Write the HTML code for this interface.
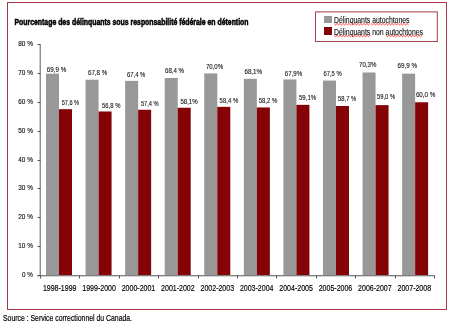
<!DOCTYPE html>
<html><head><meta charset="utf-8"><style>
html,body{margin:0;padding:0;background:#fff;width:450px;height:323px;overflow:hidden}
svg{position:absolute;left:0;top:0;will-change:transform}
</style></head><body>
<svg width="450" height="323" viewBox="0 0 450 323">
<rect x="7.5" y="2.5" width="439" height="307" fill="#fff" stroke="#a83a48" stroke-width="1"/>
<text x="14.5" y="25" font-size="8.5" font-weight="bold" font-family="Liberation Sans" textLength="234" lengthAdjust="spacingAndGlyphs" stroke="#000" stroke-width="0.5">Pourcentage des délinquants sous responsabilité fédérale en détention</text>
<rect x="315.5" y="11.9" width="121.8" height="29.6" fill="#fff" stroke="#a2464f" stroke-width="1.05"/>
<rect x="324" y="16" width="8" height="7" fill="#989898"/>
<rect x="324" y="27" width="8" height="8" fill="#850306"/>
<text x="334" y="23.2" font-size="9" font-family="Liberation Sans" textLength="75.5" lengthAdjust="spacingAndGlyphs" fill="#111" stroke="#111" stroke-width="0.12">Délinquants autochtones</text>
<text x="334" y="35" font-size="9" font-family="Liberation Sans" textLength="89" lengthAdjust="spacingAndGlyphs" fill="#111" stroke="#111" stroke-width="0.12">Délinquants non autochtones</text>
<polyline fill="none" stroke="#ff2a2a" stroke-width="0.9" stroke-linejoin="round" points="334.0,23.5 335.5,24.9 337.0,23.5 338.5,24.9 340.0,23.5 341.5,24.9 343.0,23.5 344.5,24.9 346.0,23.5 347.5,24.9 349.0,23.5 350.5,24.9 352.0,23.5 353.5,24.9 355.0,23.5 356.5,24.9 358.0,23.5 359.5,24.9 361.0,23.5 362.5,24.9 364.0,23.5 365.5,24.9 367.0,23.5 368.5,24.9 370.0,23.5"/>
<polyline fill="none" stroke="#ff2a2a" stroke-width="0.9" stroke-linejoin="round" points="371.0,23.5 372.5,24.9 374.0,23.5 375.5,24.9 377.0,23.5 378.5,24.9 380.0,23.5 381.5,24.9 383.0,23.5 384.5,24.9 386.0,23.5 387.5,24.9 389.0,23.5 390.5,24.9 392.0,23.5 393.5,24.9 395.0,23.5 396.5,24.9 398.0,23.5 399.5,24.9 401.0,23.5 402.5,24.9 404.0,23.5 405.5,24.9 407.0,23.5 408.5,24.9"/>
<polyline fill="none" stroke="#ff2a2a" stroke-width="0.9" stroke-linejoin="round" points="334.0,35.3 335.5,36.7 337.0,35.3 338.5,36.7 340.0,35.3 341.5,36.7 343.0,35.3 344.5,36.7 346.0,35.3 347.5,36.7 349.0,35.3 350.5,36.7 352.0,35.3 353.5,36.7 355.0,35.3 356.5,36.7 358.0,35.3 359.5,36.7 361.0,35.3 362.5,36.7 364.0,35.3 365.5,36.7 367.0,35.3 368.5,36.7 370.0,35.3"/>
<polyline fill="none" stroke="#ff2a2a" stroke-width="0.9" stroke-linejoin="round" points="386.0,35.3 387.5,36.7 389.0,35.3 390.5,36.7 392.0,35.3 393.5,36.7 395.0,35.3 396.5,36.7 398.0,35.3 399.5,36.7 401.0,35.3 402.5,36.7 404.0,35.3 405.5,36.7 407.0,35.3 408.5,36.7 410.0,35.3 411.5,36.7 413.0,35.3 414.5,36.7 416.0,35.3 417.5,36.7 419.0,35.3 420.5,36.7 422.0,35.3"/>
<line x1="40.2" y1="44.5" x2="40.2" y2="275.5" stroke="#6a6a6a" stroke-width="1.1"/>
<line x1="37.5" y1="275.8" x2="434.5" y2="275.8" stroke="#555" stroke-width="1.1"/>
<line x1="37.5" y1="275.5" x2="40.5" y2="275.5" stroke="#555" stroke-width="1"/>
<text x="32.9" y="277.4" text-anchor="end" font-size="7.2" font-family="Liberation Sans" textLength="10.8" lengthAdjust="spacingAndGlyphs" fill="#111" stroke="#111" stroke-width="0.14">0 %</text>
<line x1="37.5" y1="246.5" x2="40.5" y2="246.5" stroke="#555" stroke-width="1"/>
<text x="32.9" y="248.4" text-anchor="end" font-size="7.2" font-family="Liberation Sans" textLength="14.6" lengthAdjust="spacingAndGlyphs" fill="#111" stroke="#111" stroke-width="0.14">10 %</text>
<line x1="37.5" y1="217.5" x2="40.5" y2="217.5" stroke="#555" stroke-width="1"/>
<text x="32.9" y="219.4" text-anchor="end" font-size="7.2" font-family="Liberation Sans" textLength="14.6" lengthAdjust="spacingAndGlyphs" fill="#111" stroke="#111" stroke-width="0.14">20 %</text>
<line x1="37.5" y1="188.5" x2="40.5" y2="188.5" stroke="#555" stroke-width="1"/>
<text x="32.9" y="190.4" text-anchor="end" font-size="7.2" font-family="Liberation Sans" textLength="14.6" lengthAdjust="spacingAndGlyphs" fill="#111" stroke="#111" stroke-width="0.14">30 %</text>
<line x1="37.5" y1="160.5" x2="40.5" y2="160.5" stroke="#555" stroke-width="1"/>
<text x="32.9" y="162.4" text-anchor="end" font-size="7.2" font-family="Liberation Sans" textLength="14.6" lengthAdjust="spacingAndGlyphs" fill="#111" stroke="#111" stroke-width="0.14">40 %</text>
<line x1="37.5" y1="131.5" x2="40.5" y2="131.5" stroke="#555" stroke-width="1"/>
<text x="32.9" y="133.4" text-anchor="end" font-size="7.2" font-family="Liberation Sans" textLength="14.6" lengthAdjust="spacingAndGlyphs" fill="#111" stroke="#111" stroke-width="0.14">50 %</text>
<line x1="37.5" y1="102.5" x2="40.5" y2="102.5" stroke="#555" stroke-width="1"/>
<text x="32.9" y="104.4" text-anchor="end" font-size="7.2" font-family="Liberation Sans" textLength="14.6" lengthAdjust="spacingAndGlyphs" fill="#111" stroke="#111" stroke-width="0.14">60 %</text>
<line x1="37.5" y1="73.5" x2="40.5" y2="73.5" stroke="#555" stroke-width="1"/>
<text x="32.9" y="75.4" text-anchor="end" font-size="7.2" font-family="Liberation Sans" textLength="14.6" lengthAdjust="spacingAndGlyphs" fill="#111" stroke="#111" stroke-width="0.14">70 %</text>
<line x1="37.5" y1="44.5" x2="40.5" y2="44.5" stroke="#555" stroke-width="1"/>
<text x="32.9" y="46.4" text-anchor="end" font-size="7.2" font-family="Liberation Sans" textLength="14.6" lengthAdjust="spacingAndGlyphs" fill="#111" stroke="#111" stroke-width="0.14">80 %</text>
<line x1="40.5" y1="275.5" x2="40.5" y2="278.5" stroke="#555" stroke-width="1"/>
<line x1="79.5" y1="275.5" x2="79.5" y2="278.5" stroke="#555" stroke-width="1"/>
<line x1="119.5" y1="275.5" x2="119.5" y2="278.5" stroke="#555" stroke-width="1"/>
<line x1="158.5" y1="275.5" x2="158.5" y2="278.5" stroke="#555" stroke-width="1"/>
<line x1="198.5" y1="275.5" x2="198.5" y2="278.5" stroke="#555" stroke-width="1"/>
<line x1="237.5" y1="275.5" x2="237.5" y2="278.5" stroke="#555" stroke-width="1"/>
<line x1="276.5" y1="275.5" x2="276.5" y2="278.5" stroke="#555" stroke-width="1"/>
<line x1="316.5" y1="275.5" x2="316.5" y2="278.5" stroke="#555" stroke-width="1"/>
<line x1="355.5" y1="275.5" x2="355.5" y2="278.5" stroke="#555" stroke-width="1"/>
<line x1="395.5" y1="275.5" x2="395.5" y2="278.5" stroke="#555" stroke-width="1"/>
<line x1="434.5" y1="275.5" x2="434.5" y2="278.5" stroke="#555" stroke-width="1"/>
<rect x="46.00" y="73.66" width="13" height="201.34" fill="#989898"/>
<rect x="59.00" y="109.18" width="13" height="165.82" fill="#850306"/>
<text x="46.80" y="71.90" font-size="6.4" font-family="Liberation Sans" textLength="19.50" lengthAdjust="spacingAndGlyphs" fill="#1a1a1a" stroke="#1a1a1a" stroke-width="0.12">69,9 %</text>
<text x="61.70" y="104.80" font-size="6.4" font-family="Liberation Sans" textLength="17.40" lengthAdjust="spacingAndGlyphs" fill="#1a1a1a" stroke="#1a1a1a" stroke-width="0.12">57,6 %</text>
<text x="59.70" y="291.4" text-anchor="middle" font-size="8.3" font-family="Liberation Sans" textLength="33.6" lengthAdjust="spacingAndGlyphs" stroke="#000" stroke-width="0.16">1998-1999</text>
<rect x="85.57" y="79.73" width="13" height="195.27" fill="#989898"/>
<rect x="98.57" y="111.49" width="13" height="163.51" fill="#850306"/>
<text x="88.00" y="74.60" font-size="6.4" font-family="Liberation Sans" textLength="19.20" lengthAdjust="spacingAndGlyphs" fill="#1a1a1a" stroke="#1a1a1a" stroke-width="0.12">67,8 %</text>
<text x="102.10" y="107.50" font-size="6.4" font-family="Liberation Sans" textLength="18.30" lengthAdjust="spacingAndGlyphs" fill="#1a1a1a" stroke="#1a1a1a" stroke-width="0.12">56,8 %</text>
<text x="99.10" y="291.4" text-anchor="middle" font-size="8.3" font-family="Liberation Sans" textLength="33.6" lengthAdjust="spacingAndGlyphs" stroke="#000" stroke-width="0.16">1999-2000</text>
<rect x="125.14" y="80.88" width="13" height="194.12" fill="#989898"/>
<rect x="138.14" y="109.76" width="13" height="165.24" fill="#850306"/>
<text x="127.00" y="76.90" font-size="6.4" font-family="Liberation Sans" textLength="18.30" lengthAdjust="spacingAndGlyphs" fill="#1a1a1a" stroke="#1a1a1a" stroke-width="0.12">67,4 %</text>
<text x="140.90" y="105.70" font-size="6.4" font-family="Liberation Sans" textLength="17.80" lengthAdjust="spacingAndGlyphs" fill="#1a1a1a" stroke="#1a1a1a" stroke-width="0.12">57,4 %</text>
<text x="138.50" y="291.4" text-anchor="middle" font-size="8.3" font-family="Liberation Sans" textLength="33.6" lengthAdjust="spacingAndGlyphs" stroke="#000" stroke-width="0.16">2000-2001</text>
<rect x="164.71" y="77.99" width="13" height="197.01" fill="#989898"/>
<rect x="177.71" y="107.74" width="13" height="167.26" fill="#850306"/>
<text x="165.00" y="73.30" font-size="6.4" font-family="Liberation Sans" textLength="19.00" lengthAdjust="spacingAndGlyphs" fill="#1a1a1a" stroke="#1a1a1a" stroke-width="0.12">68,4 %</text>
<text x="180.40" y="104.30" font-size="6.4" font-family="Liberation Sans" textLength="17.30" lengthAdjust="spacingAndGlyphs" fill="#1a1a1a" stroke="#1a1a1a" stroke-width="0.12">58,1%</text>
<text x="177.90" y="291.4" text-anchor="middle" font-size="8.3" font-family="Liberation Sans" textLength="33.6" lengthAdjust="spacingAndGlyphs" stroke="#000" stroke-width="0.16">2001-2002</text>
<rect x="204.28" y="73.38" width="13" height="201.62" fill="#989898"/>
<rect x="217.28" y="106.87" width="13" height="168.13" fill="#850306"/>
<text x="205.90" y="68.70" font-size="6.4" font-family="Liberation Sans" textLength="17.20" lengthAdjust="spacingAndGlyphs" fill="#1a1a1a" stroke="#1a1a1a" stroke-width="0.12">70,0%</text>
<text x="219.60" y="102.50" font-size="6.4" font-family="Liberation Sans" textLength="18.60" lengthAdjust="spacingAndGlyphs" fill="#1a1a1a" stroke="#1a1a1a" stroke-width="0.12">58,4 %</text>
<text x="217.30" y="291.4" text-anchor="middle" font-size="8.3" font-family="Liberation Sans" textLength="33.6" lengthAdjust="spacingAndGlyphs" stroke="#000" stroke-width="0.16">2002-2003</text>
<rect x="243.85" y="78.86" width="13" height="196.14" fill="#989898"/>
<rect x="256.85" y="107.45" width="13" height="167.55" fill="#850306"/>
<text x="244.40" y="74.10" font-size="6.4" font-family="Liberation Sans" textLength="17.80" lengthAdjust="spacingAndGlyphs" fill="#1a1a1a" stroke="#1a1a1a" stroke-width="0.12">68,1%</text>
<text x="258.70" y="103.00" font-size="6.4" font-family="Liberation Sans" textLength="18.60" lengthAdjust="spacingAndGlyphs" fill="#1a1a1a" stroke="#1a1a1a" stroke-width="0.12">58,2 %</text>
<text x="256.70" y="291.4" text-anchor="middle" font-size="8.3" font-family="Liberation Sans" textLength="33.6" lengthAdjust="spacingAndGlyphs" stroke="#000" stroke-width="0.16">2003-2004</text>
<rect x="283.42" y="79.44" width="13" height="195.56" fill="#989898"/>
<rect x="296.42" y="104.85" width="13" height="170.15" fill="#850306"/>
<text x="284.80" y="75.50" font-size="6.4" font-family="Liberation Sans" textLength="17.40" lengthAdjust="spacingAndGlyphs" fill="#1a1a1a" stroke="#1a1a1a" stroke-width="0.12">67,9%</text>
<text x="299.00" y="100.40" font-size="6.4" font-family="Liberation Sans" textLength="17.10" lengthAdjust="spacingAndGlyphs" fill="#1a1a1a" stroke="#1a1a1a" stroke-width="0.12">59,1%</text>
<text x="296.10" y="291.4" text-anchor="middle" font-size="8.3" font-family="Liberation Sans" textLength="33.6" lengthAdjust="spacingAndGlyphs" stroke="#000" stroke-width="0.16">2004-2005</text>
<rect x="322.99" y="80.59" width="13" height="194.41" fill="#989898"/>
<rect x="335.99" y="106.00" width="13" height="169.00" fill="#850306"/>
<text x="323.50" y="76.00" font-size="6.4" font-family="Liberation Sans" textLength="18.20" lengthAdjust="spacingAndGlyphs" fill="#1a1a1a" stroke="#1a1a1a" stroke-width="0.12">67,5 %</text>
<text x="338.10" y="100.90" font-size="6.4" font-family="Liberation Sans" textLength="18.10" lengthAdjust="spacingAndGlyphs" fill="#1a1a1a" stroke="#1a1a1a" stroke-width="0.12">58,7 %</text>
<text x="335.50" y="291.4" text-anchor="middle" font-size="8.3" font-family="Liberation Sans" textLength="33.6" lengthAdjust="spacingAndGlyphs" stroke="#000" stroke-width="0.16">2005-2006</text>
<rect x="362.56" y="72.51" width="13" height="202.49" fill="#989898"/>
<rect x="375.56" y="105.14" width="13" height="169.86" fill="#850306"/>
<text x="359.10" y="66.60" font-size="6.4" font-family="Liberation Sans" textLength="17.20" lengthAdjust="spacingAndGlyphs" fill="#1a1a1a" stroke="#1a1a1a" stroke-width="0.12">70,3%</text>
<text x="377.00" y="98.70" font-size="6.4" font-family="Liberation Sans" textLength="18.10" lengthAdjust="spacingAndGlyphs" fill="#1a1a1a" stroke="#1a1a1a" stroke-width="0.12">59,0 %</text>
<text x="374.90" y="291.4" text-anchor="middle" font-size="8.3" font-family="Liberation Sans" textLength="33.6" lengthAdjust="spacingAndGlyphs" stroke="#000" stroke-width="0.16">2006-2007</text>
<rect x="402.13" y="73.66" width="13" height="201.34" fill="#989898"/>
<rect x="415.13" y="102.25" width="13" height="172.75" fill="#850306"/>
<text x="397.60" y="68.00" font-size="6.4" font-family="Liberation Sans" textLength="19.50" lengthAdjust="spacingAndGlyphs" fill="#1a1a1a" stroke="#1a1a1a" stroke-width="0.12">69,9 %</text>
<text x="415.90" y="97.20" font-size="6.4" font-family="Liberation Sans" textLength="19.50" lengthAdjust="spacingAndGlyphs" fill="#1a1a1a" stroke="#1a1a1a" stroke-width="0.12">60,0 %</text>
<text x="414.30" y="291.4" text-anchor="middle" font-size="8.3" font-family="Liberation Sans" textLength="33.6" lengthAdjust="spacingAndGlyphs" stroke="#000" stroke-width="0.16">2007-2008</text>
<text x="3" y="320.6" font-size="9.4" font-family="Liberation Sans" textLength="129" lengthAdjust="spacingAndGlyphs" stroke="#000" stroke-width="0.2">Source : Service correctionnel du Canada.</text>
</svg>
</body></html>
